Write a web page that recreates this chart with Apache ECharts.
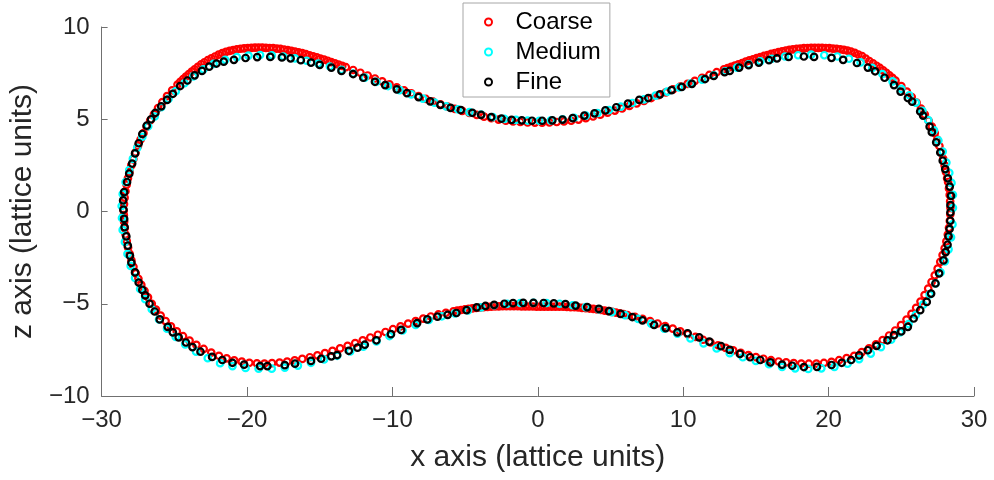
<!DOCTYPE html>
<html>
<head>
<meta charset="utf-8">
<script src="https://cdn.jsdelivr.net/npm/echarts@6/dist/echarts.min.js"></script>
<style>html,body{margin:0;padding:0;background:#fff}#c{width:994px;height:480px}</style>
</head>
<body>
<div id="c"></div>
<script>
var seriesNames = ['Coarse', 'Medium', 'Fine'];
var xTicks = [-30, -20, -10, 0, 10, 20, 30];
var zTicks = [-10, -5, 0, 5, 10];

var coarse = [
[28.38,0.2],[28.36,0.55],[28.33,0.9],[28.28,1.25],[28.22,1.6],[28.15,1.8],[28.07,2.15],[27.98,2.5],[27.88,2.85],[27.76,3.2],[27.62,3.55],[27.47,3.9],[27.3,4.25],[27.1,4.6],[26.88,4.92],[26.62,5.25],[26.35,5.58],[26.05,5.9],[25.72,6.2],[25.38,6.5],[25.0,6.8],[24.6,7.1],[24.18,7.38],[23.75,7.65],[23.3,7.9],[22.8,8.15],[22.3,8.42],[21.8,8.6],[21.3,8.72],[20.8,8.79],[20.3,8.83],[19.8,8.86],[19.3,8.87],[18.8,8.87],[18.3,8.85],[17.8,8.81],[17.3,8.76],[16.8,8.68],[16.3,8.59],[15.8,8.48],[15.3,8.37],[14.8,8.25],[14.3,8.12],[13.8,7.98],[13.3,7.84],[12.8,7.7],[12.3,7.55],[11.8,7.4],[11.3,7.24],[10.8,7.08],[10.3,6.92],[9.8,6.77],[9.3,6.62],[8.8,6.46],[8.3,6.3],[7.8,6.15],[7.3,6.0],[6.8,5.86],[6.3,5.72],[5.8,5.59],[5.3,5.47],[4.8,5.36],[4.3,5.25],[3.8,5.15],[3.3,5.06],[2.8,4.98],[2.3,4.92],[1.8,4.88],[1.3,4.85],[0.8,4.83],[0.3,4.82],[-0.2,4.82],[-0.7,4.83],[-1.2,4.85],[-1.7,4.88],[-2.2,4.92],[-2.7,4.98],[-3.2,5.06],[-3.7,5.14],[-4.2,5.24],[-4.7,5.34],[-5.2,5.45],[-5.7,5.56],[-6.2,5.68],[-6.7,5.81],[-7.2,5.95],[-7.7,6.1],[-8.2,6.25],[-8.7,6.41],[-9.2,6.57],[-9.7,6.73],[-10.2,6.89],[-10.7,7.05],[-11.2,7.21],[-11.7,7.37],[-12.2,7.52],[-12.7,7.67],[-13.2,7.82],[-13.7,7.96],[-14.2,8.1],[-14.7,8.23],[-15.2,8.35],[-15.7,8.47],[-16.2,8.58],[-16.7,8.67],[-17.2,8.75],[-17.7,8.81],[-18.2,8.85],[-18.7,8.87],[-19.2,8.88],[-19.7,8.87],[-20.2,8.84],[-20.7,8.79],[-21.2,8.71],[-21.7,8.58],[-22.2,8.4],[-22.7,8.2],[-23.15,7.98],[-23.6,7.7],[-24.0,7.45],[-24.4,7.17],[-24.78,6.88],[-25.15,6.57],[-25.5,6.25],[-25.82,5.93],[-26.12,5.6],[-26.4,5.27],[-26.66,4.93],[-26.9,4.6],[-27.12,4.25],[-27.32,3.9],[-27.5,3.55],[-27.67,3.2],[-27.82,2.85],[-27.96,2.5],[-28.08,2.15],[-28.19,1.8],[-28.28,1.45],[-28.36,1.1],[-28.42,0.75],[-28.46,0.4],[-28.48,0.05],
[-28.47,-0.2],[-28.45,-0.55],[-28.41,-0.9],[-28.35,-1.25],[-28.27,-1.6],[-28.18,-1.95],[-28.07,-2.3],[-27.95,-2.65],[-27.81,-3.0],[-27.65,-3.35],[-27.47,-3.65],[-27.27,-3.98],[-27.05,-4.3],[-26.81,-4.65],[-26.55,-5.0],[-26.26,-5.32],[-25.94,-5.64],[-25.6,-5.94],[-25.23,-6.23],[-24.83,-6.5],[-24.4,-6.76],[-23.95,-7.0],[-23.48,-7.23],[-22.98,-7.45],[-22.46,-7.65],[-21.93,-7.82],[-21.4,-7.96],[-20.88,-8.07],[-20.36,-8.14],[-19.84,-8.2],[-19.32,-8.23],[-18.8,-8.24],[-18.28,-8.22],[-17.76,-8.19],[-17.24,-8.14],[-16.72,-8.07],[-16.2,-7.99],[-15.68,-7.9],[-15.16,-7.8],[-14.64,-7.68],[-14.12,-7.55],[-13.6,-7.42],[-13.08,-7.28],[-12.56,-7.13],[-12.04,-6.98],[-11.52,-6.83],[-11.0,-6.68],[-10.48,-6.53],[-9.96,-6.38],[-9.44,-6.23],[-8.92,-6.08],[-8.4,-5.94],[-7.88,-5.81],[-7.36,-5.69],[-6.84,-5.58],[-6.32,-5.49],[-5.8,-5.41],[-5.28,-5.34],[-4.76,-5.28],[-4.24,-5.23],[-3.72,-5.19],[-3.2,-5.16],[-2.68,-5.14],[-2.16,-5.13],[-1.64,-5.13],[-1.12,-5.14],[-0.6,-5.15],[-0.08,-5.16],[0.44,-5.16],[0.96,-5.16],[1.48,-5.16],[2.0,-5.17],[2.52,-5.19],[3.04,-5.22],[3.56,-5.26],[4.08,-5.31],[4.6,-5.37],[5.12,-5.44],[5.64,-5.52],[6.16,-5.61],[6.68,-5.71],[7.2,-5.82],[7.72,-5.94],[8.24,-6.07],[8.76,-6.21],[9.28,-6.35],[9.8,-6.5],[10.32,-6.65],[10.84,-6.8],[11.36,-6.95],[11.88,-7.1],[12.4,-7.25],[12.92,-7.39],[13.44,-7.53],[13.96,-7.66],[14.48,-7.78],[15.0,-7.89],[15.52,-7.98],[16.04,-8.06],[16.56,-8.13],[17.08,-8.18],[17.6,-8.22],[18.12,-8.24],[18.64,-8.25],[19.16,-8.24],[19.68,-8.21],[20.2,-8.15],[20.72,-8.06],[21.24,-7.95],[21.76,-7.82],[22.28,-7.62],[22.78,-7.42],[23.26,-7.2],[23.72,-6.97],[24.16,-6.72],[24.58,-6.45],[24.98,-6.16],[25.36,-5.86],[25.7,-5.55],[26.02,-5.22],[26.32,-4.88],[26.6,-4.53],[26.85,-4.18],[27.08,-3.82],[27.3,-3.46],[27.5,-3.1],[27.68,-2.73],[27.84,-2.36],[27.98,-1.99],[28.1,-1.62],[28.2,-1.25],[28.28,-0.88],[28.34,-0.51],[28.37,-0.15],
[24.39,7.24],[23.97,7.52],[23.53,7.78],[23.05,8.03],[22.55,8.29],[22.05,8.51],[21.55,8.66],[21.05,8.76],[20.55,8.81],[20.05,8.85],[19.55,8.87],[19.05,8.87],[18.55,8.86],[18.05,8.83],[17.55,8.79],[17.05,8.72],[16.55,8.64],[16.05,8.54],[15.55,8.43],[15.05,8.31],[14.55,8.19],[14.05,8.05],[13.55,7.91],[13.05,7.77],
[-13.45,7.89],[-13.95,8.03],[-14.45,8.17],[-14.95,8.29],[-15.45,8.41],[-15.95,8.53],[-16.45,8.63],[-16.95,8.71],[-17.45,8.78],[-17.95,8.83],[-18.45,8.86],[-18.95,8.88],[-19.45,8.88],[-19.95,8.86],[-20.45,8.82],[-20.95,8.75],[-21.45,8.65],[-21.95,8.5],[-22.45,8.3],[-22.93,8.09],[-23.38,7.84],[-23.8,7.58],[-24.2,7.31],[-24.59,7.03],
[-5.54,-5.37],[-5.02,-5.31],[-4.5,-5.25],[-3.98,-5.21],[-3.46,-5.17],[-2.94,-5.15],[-2.42,-5.13],[-1.9,-5.13],[-1.38,-5.13],[-0.86,-5.14],[-0.34,-5.15],[0.18,-5.16],[0.7,-5.16],[1.22,-5.16],[1.74,-5.16],[2.26,-5.18],[2.78,-5.2],[3.3,-5.24],[3.82,-5.28],[4.34,-5.34],[4.86,-5.4],[5.38,-5.48],[5.9,-5.56]
];

var medium = [
[28.55,0.2],[28.55,0.9],[28.45,1.55],[28.3,2.1],[28.1,2.65],[27.85,3.25],[27.55,3.85],[27.25,4.4],[26.85,4.95],[26.45,5.45],[26.0,5.9],[25.55,6.3],[25.0,6.65],[24.4,7.05],[23.7,7.45],[23.0,7.78],[22.2,8.08],[21.4,8.28],[20.6,8.4],[19.7,8.47],[18.8,8.5],[17.9,8.47],[17.0,8.4],[16.1,8.28],[15.3,8.14],[14.5,7.98],[13.7,7.8],[12.9,7.6],[12.1,7.38],[11.3,7.15],[10.5,6.93],[9.7,6.72],[8.9,6.5],[8.1,6.28],[7.3,6.08],[6.5,5.88],[5.7,5.68],[4.9,5.5],[4.1,5.34],[3.3,5.2],[2.5,5.08],[1.7,4.99],[0.9,4.94],[0.1,4.92],[-0.7,4.93],[-1.5,4.97],[-2.3,5.02],[-3.1,5.12],[-3.9,5.25],[-4.7,5.39],[-5.5,5.54],[-6.3,5.7],[-7.1,5.9],[-7.9,6.12],[-8.7,6.35],[-9.5,6.58],[-10.3,6.8],[-11.1,7.03],[-11.9,7.26],[-12.7,7.48],[-13.5,7.68],[-14.3,7.86],[-15.1,8.02],[-15.9,8.17],[-16.7,8.3],[-17.5,8.4],[-18.3,8.46],[-19.1,8.48],[-19.9,8.45],[-20.7,8.37],[-21.5,8.22],[-22.3,8.0],[-23.0,7.7],[-23.7,7.32],[-24.3,6.95],[-24.9,6.52],[-25.4,6.1],[-25.9,5.65],[-26.35,5.15],[-26.8,4.62],[-27.2,4.05],[-27.55,3.45],[-27.85,2.85],[-28.1,2.25],[-28.35,1.6],[-28.55,0.95],[-28.62,0.3],
[-28.6,-0.35],[-28.55,-1.0],[-28.4,-1.65],[-28.22,-2.3],[-28.0,-2.95],[-27.7,-3.6],[-27.35,-4.2],[-27.0,-4.75],[-26.55,-5.3],[-26.05,-5.85],[-25.5,-6.35],[-24.9,-6.8],[-24.25,-7.2],[-23.5,-7.6],[-22.7,-7.95],[-21.85,-8.22],[-21.0,-8.38],[-20.1,-8.48],[-19.2,-8.52],[-18.3,-8.52],[-17.4,-8.46],[-16.5,-8.35],[-15.6,-8.2],[-14.7,-8.02],[-13.8,-7.82],[-12.9,-7.58],[-12.0,-7.32],[-11.1,-7.04],[-10.2,-6.75],[-9.3,-6.45],[-8.4,-6.15],[-7.5,-5.88],[-6.6,-5.68],[-5.7,-5.52],[-4.8,-5.36],[-3.9,-5.2],[-3.0,-5.08],[-2.1,-5.0],[-1.2,-4.96],[-0.3,-4.95],[0.6,-4.96],[1.5,-5.0],[2.4,-5.08],[3.3,-5.18],[4.2,-5.3],[5.1,-5.45],[6.0,-5.62],[6.9,-5.82],[7.8,-6.08],[8.7,-6.35],[9.6,-6.62],[10.5,-6.88],[11.4,-7.15],[12.3,-7.42],[13.2,-7.68],[14.1,-7.9],[15.0,-8.1],[15.9,-8.28],[16.8,-8.42],[17.7,-8.5],[18.6,-8.53],[19.5,-8.5],[20.4,-8.42],[21.3,-8.25],[22.1,-8.0],[22.9,-7.7],[23.6,-7.35],[24.3,-6.95],[24.9,-6.55],[25.5,-6.1],[26.0,-5.6],[26.5,-5.05],[26.95,-4.5],[27.35,-3.9],[27.7,-3.3],[28.0,-2.7],[28.25,-2.05],[28.42,-1.4],[28.52,-0.7]
];

var fine = [
[28.38,0.35],[28.42,0.85],[28.33,1.35],[28.2,1.8],[28.02,2.3],[27.85,2.75],[27.68,3.2],[27.4,3.75],[27.1,4.3],[26.95,4.6],[26.5,5.2],[26.3,5.42],[25.75,5.95],[25.45,6.15],[24.95,6.5],[24.5,6.85],[23.85,7.25],[23.2,7.6],[22.7,7.8],[21.95,8.05],[21.0,8.22],[20.2,8.33],[19.0,8.38],[18.3,8.4],[17.25,8.38],[16.45,8.3],[15.9,8.2],[15.2,8.07],[14.5,7.93],[13.85,7.8],[13.2,7.62],[12.85,7.55],[12.1,7.35],[11.5,7.18],[10.6,6.92],[9.9,6.75],[9.2,6.58],[8.4,6.35],[7.6,6.15],[6.98,6.05],[6.2,5.85],[5.4,5.65],[4.65,5.48],[3.9,5.32],[3.2,5.2],[2.4,5.06],[1.7,4.98],[1.0,4.94],[0.3,4.92],[-0.4,4.92],[-1.1,4.94],[-1.8,4.97],[-2.5,5.03],[-3.2,5.12],[-3.9,5.24],[-4.5,5.35],[-5.3,5.5],[-6.0,5.62],[-6.7,5.78],[-7.4,5.97],[-8.2,6.2],[-9.0,6.42],[-9.7,6.62],[-10.5,6.85],[-11.2,7.03],[-12.0,7.25],[-12.7,7.45],[-13.5,7.62],[-14.2,7.8],[-15.0,7.95],[-15.6,8.07],[-16.3,8.2],[-17.0,8.3],[-17.6,8.35],[-18.4,8.38],[-19.3,8.37],[-20.1,8.32],[-20.9,8.22],[-21.6,8.12],[-22.1,8.02],[-22.6,7.85],[-23.1,7.62],[-23.6,7.38],[-24.1,7.1],[-24.6,6.8],[-25.1,6.38],[-25.5,6.05],[-25.9,5.7],[-26.3,5.35],[-26.6,5.0],[-26.9,4.65],[-27.2,4.2],[-27.45,3.7],[-27.7,3.15],[-27.9,2.6],[-28.1,2.05],[-28.25,1.6],[-28.45,1.05],[-28.52,0.6],[-28.5,0.1],
[-28.45,-0.4],[-28.42,-0.85],[-28.3,-1.35],[-28.2,-1.85],[-28.05,-2.4],[-27.95,-2.78],[-27.7,-3.3],[-27.45,-3.85],[-27.2,-4.25],[-27.0,-4.55],[-26.7,-5.0],[-26.35,-5.42],[-26.0,-5.85],[-25.45,-6.25],[-25.1,-6.55],[-24.7,-6.82],[-24.2,-7.1],[-23.75,-7.35],[-23.2,-7.6],[-22.4,-7.88],[-21.7,-8.05],[-21.0,-8.2],[-20.2,-8.3],[-19.1,-8.38],[-18.6,-8.38],[-17.4,-8.33],[-16.7,-8.25],[-15.6,-8.1],[-14.9,-7.98],[-14.2,-7.85],[-13.8,-7.78],[-13.0,-7.55],[-12.4,-7.38],[-11.9,-7.22],[-11.1,-6.98],[-10.1,-6.65],[-9.4,-6.42],[-8.3,-6.05],[-7.6,-5.85],[-6.9,-5.7],[-6.2,-5.6],[-5.6,-5.5],[-4.9,-5.35],[-4.2,-5.2],[-3.6,-5.12],[-3.0,-5.06],[-2.3,-5.0],[-1.7,-4.97],[-1.0,-4.95],[-0.3,-4.95],[0.4,-4.96],[1.1,-4.98],[1.9,-5.02],[2.6,-5.1],[3.4,-5.18],[4.2,-5.28],[4.9,-5.4],[5.7,-5.55],[6.5,-5.72],[7.2,-5.9],[8.0,-6.15],[8.8,-6.32],[9.6,-6.55],[10.3,-6.6],[11.1,-6.82],[11.8,-7.05],[12.6,-7.3],[13.2,-7.5],[13.9,-7.72],[14.6,-7.9],[15.3,-8.05],[16.0,-8.18],[16.8,-8.3],[17.5,-8.36],[18.3,-8.43],[19.2,-8.42],[20.2,-8.32],[20.9,-8.2],[21.55,-8.05],[22.1,-7.8],[22.7,-7.52],[23.3,-7.28],[24.05,-6.98],[24.5,-6.7],[25.0,-6.5],[25.45,-6.25],[25.85,-5.8],[26.3,-5.35],[26.75,-4.9],[27.05,-4.45],[27.35,-3.9],[27.6,-3.35],[27.9,-2.65],[28.05,-2.2],[28.18,-1.8],[28.25,-1.35],[28.32,-0.95],[28.37,-0.5],[28.38,-0.05]
];

var colors = ['#ff0000', '#00ffff', '#000000'];
var dataSets = [coarse, medium, fine];
var FONT = '"Liberation Sans", Arial, Helvetica, sans-serif';
function minusFmt(v) { return String(v).replace('-', '\u2212'); }

var chart = echarts.init(document.getElementById('c'), null, {renderer: 'canvas'});
var series = seriesNames.map(function (n, i) {
  return {
    name: n,
    type: 'scatter',
    data: dataSets[i],
    symbol: 'circle',
    symbolSize: 6.5,
    itemStyle: {color: 'rgba(255,255,255,0)', borderColor: colors[i], borderWidth: 2.2, opacity: 1},
    emphasis: {disabled: true}
  };
});

chart.setOption({
  animation: false,
  backgroundColor: '#ffffff',
  grid: {left: 96, right: 20, top: 27, bottom: 84, containLabel: false},
  legend: {
    data: seriesNames,
    orient: 'vertical',
    left: 463, top: 3,
    padding: [7, 9, 3, 21],
    itemGap: 6,
    itemWidth: 44, itemHeight: 7,
    backgroundColor: '#ffffff',
    borderColor: '#a6a6a6', borderWidth: 1,
    textStyle: {fontSize: 24, color: '#000', fontFamily: FONT}
  },
  xAxis: {
    type: 'value', min: xTicks[0], max: xTicks[xTicks.length - 1], interval: 10,
    name: 'x axis (lattice units)', nameLocation: 'middle', nameGap: 47,
    nameTextStyle: {fontSize: 30, color: '#262626', fontFamily: FONT},
    axisLine: {show: true, onZero: false, lineStyle: {color: '#707070', width: 1}},
    axisTick: {show: true, inside: true, length: 9, lineStyle: {color: '#707070'}},
    axisLabel: {fontSize: 24, color: '#262626', fontFamily: FONT, margin: 12, formatter: minusFmt},
    splitLine: {show: false}
  },
  yAxis: {
    type: 'value', min: zTicks[0], max: zTicks[zTicks.length - 1], interval: 5,
    name: 'z axis (lattice units)', nameLocation: 'middle', nameGap: 53, nameRotate: 90,
    nameTextStyle: {fontSize: 30, color: '#262626', fontFamily: FONT},
    axisLine: {show: true, onZero: false, lineStyle: {color: '#707070', width: 1}},
    axisTick: {show: true, inside: true, length: 6, lineStyle: {color: '#707070'}},
    axisLabel: {fontSize: 24, color: '#262626', fontFamily: FONT, margin: 12, formatter: minusFmt},
    splitLine: {show: false}
  },
  series: series
});
</script>
</body>
</html>
